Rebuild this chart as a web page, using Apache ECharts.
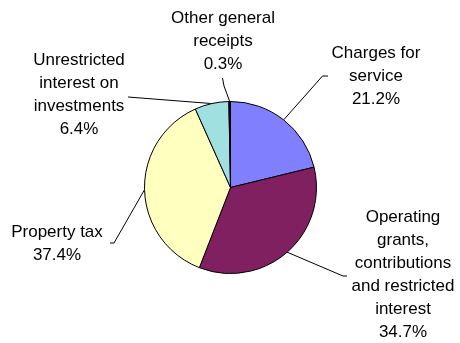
<!DOCTYPE html>
<html>
<head>
<meta charset="utf-8">
<script src="https://cdn.jsdelivr.net/npm/echarts@6/dist/echarts.min.js"></script>
<style>html,body{margin:0;padding:0;background:#fff}#c{width:460px;height:343px}</style>
</head>
<body>
<div id="c"></div>
<script>
var categories = ['Charges for\nservice', 'Operating\ngrants,\ncontributions\nand restricted\ninterest', 'Property tax', 'Unrestricted\ninterest on\ninvestments', 'Other general\nreceipts'];
var values = [21.2, 34.7, 37.4, 6.4, 0.3];
var colors = ['#8080FF', '#802060', '#FFFFC0', '#A0E0E0', '#000000'];

// label placement (text centre) and leader bends
var labelPos = [[376, 76], [403, 275], [57, 244], [79, 95], [223, 41]];
var leaderBends = [
  [[322.5, 76], [328, 76]],
  [[343, 276], [347, 276]],
  [[114, 243], [110, 243]],
  [[128, 97]],
  [[224, 86], [222.5, 78]]
];

var chart = echarts.init(document.getElementById('c'), null, {renderer: 'canvas'});
chart.setOption({
  animation: false,
  backgroundColor: '#fff',
  series: [{
    type: 'pie',
    center: [230.5, 187.5],
    radius: [0, 86],
    startAngle: 90,
    clockwise: true,
    avoidLabelOverlap: false,
    minAngle: 0,
    itemStyle: {borderColor: '#000', borderWidth: 1},
    emphasis: {disabled: true},
    label: {
      show: true,
      formatter: function (p) { return p.name + '\n' + p.value.toFixed(1) + '%'; },
      fontFamily: 'Liberation Sans, Arial, sans-serif',
      fontSize: 17,
      lineHeight: 23,
      color: '#000',
      align: 'center'
    },
    labelLine: {show: true, lineStyle: {color: '#000', width: 1}, length: 10, length2: 10},
    labelLayout: function (params) {
      var i = params.dataIndex;
      var start = params.labelLinePoints ? params.labelLinePoints[0] : null;
      var pts = start ? [start].concat(leaderBends[i]) : undefined;
      return {
        x: labelPos[i][0],
        y: labelPos[i][1],
        align: 'center',
        verticalAlign: 'middle',
        labelLinePoints: pts
      };
    },
    data: values.map(function (v, i) {
      return {value: v, name: categories[i], itemStyle: {color: colors[i]}};
    })
  }]
});
</script>
</body>
</html>
